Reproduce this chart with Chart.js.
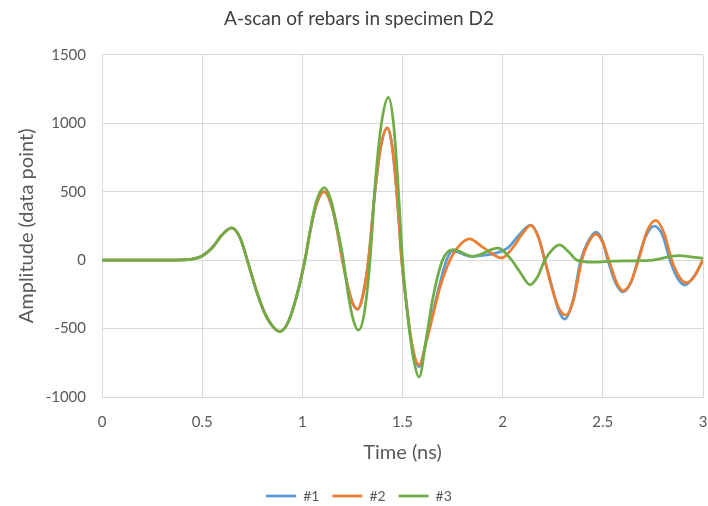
<!DOCTYPE html>
<html>
<head>
<meta charset="utf-8">
<script src="https://cdn.jsdelivr.net/npm/chart.js@4"></script>
<style>
  html, body { margin: 0; padding: 0; background: #fff; }
  #wrap { width: 708px; height: 506px; }
</style>
</head>
<body>
<div id="wrap"><canvas id="chart" width="708" height="506"></canvas></div>
<script>
// A-scan data (time in ns, amplitude in data points)
const seriesNames = ["#1", "#2", "#3"];
const seriesColors = ["#5B9BD5", "#ED7D31", "#70AD47"];

const time1 = [0, 0.3, 0.4, 0.45, 0.5, 0.55, 0.6, 0.647, 0.69, 0.725, 0.77, 0.81, 0.85, 0.889, 0.93, 0.97, 1.013, 1.04, 1.07, 1.108, 1.14, 1.17, 1.2, 1.225, 1.25, 1.275, 1.3, 1.33, 1.36, 1.39, 1.424, 1.45, 1.475, 1.496, 1.52, 1.55, 1.583, 1.62, 1.654, 1.687, 1.72, 1.75, 1.84, 1.9, 1.97, 2.03, 2.08, 2.14, 2.18, 2.21, 2.25, 2.28, 2.31, 2.35, 2.39, 2.43, 2.466, 2.5, 2.525, 2.565, 2.6, 2.64, 2.675, 2.715, 2.757, 2.8, 2.835, 2.87, 2.91, 2.955, 3.0];
const amp1 = [0, 0, 2, 8, 30, 90, 185, 235, 160, 0, -220, -380, -480, -522, -450, -272, 0, 216, 405, 500, 426, 250, 0, -180, -312, -360, -272, 0, 465, 815, 962, 815, 425, 0, -330, -645, -778, -580, -370, -170, 0, 68, 28, 35, 53, 95, 180, 256, 165, 0, -215, -370, -431, -300, 0, 145, 205, 135, 0, -170, -232, -165, 0, 175, 248, 175, 0, -125, -182, -120, 0];

const time2 = [0, 0.3, 0.4, 0.45, 0.5, 0.55, 0.6, 0.647, 0.69, 0.725, 0.77, 0.81, 0.85, 0.889, 0.93, 0.97, 1.013, 1.04, 1.07, 1.108, 1.14, 1.17, 1.2, 1.225, 1.25, 1.275, 1.3, 1.33, 1.36, 1.39, 1.424, 1.45, 1.475, 1.496, 1.52, 1.55, 1.583, 1.62, 1.654, 1.687, 1.737, 1.78, 1.834, 1.9, 1.995, 2.05, 2.1, 2.14, 2.18, 2.21, 2.25, 2.28, 2.316, 2.355, 2.395, 2.43, 2.466, 2.5, 2.53, 2.57, 2.603, 2.64, 2.678, 2.72, 2.764, 2.805, 2.844, 2.88, 2.916, 2.96, 3.0];
const amp2 = [0, 0, 2, 8, 30, 90, 185, 235, 160, 0, -220, -380, -480, -520, -450, -272, 0, 216, 405, 500, 426, 250, 0, -180, -310, -358, -272, 0, 465, 815, 966, 815, 425, 0, -325, -635, -766, -590, -392, -199, 0, 100, 155, 95, 16, 90, 195, 253, 160, 0, -225, -350, -402, -284, 0, 133, 190, 127, 0, -168, -224, -161, 0, 209, 290, 200, 0, -117, -165, -112, 5];

const time3 = [0, 0.3, 0.4, 0.45, 0.5, 0.55, 0.6, 0.647, 0.69, 0.725, 0.77, 0.81, 0.85, 0.889, 0.93, 0.97, 1.013, 1.04, 1.07, 1.11, 1.14, 1.17, 1.205, 1.23, 1.255, 1.28, 1.31, 1.338, 1.365, 1.395, 1.43, 1.455, 1.48, 1.5, 1.525, 1.555, 1.583, 1.62, 1.65, 1.7, 1.753, 1.85, 1.977, 2.045, 2.087, 2.137, 2.175, 2.21, 2.25, 2.283, 2.33, 2.37, 2.45, 2.55, 2.65, 2.75, 2.876, 2.95, 3.0];
const amp3 = [0, 0, 2, 8, 30, 90, 185, 235, 160, 0, -220, -380, -480, -522, -450, -272, 0, 225, 430, 529, 450, 265, 0, -260, -440, -512, -380, 0, 580, 1000, 1189, 1000, 500, 0, -390, -720, -854, -560, -290, 0, 77, 28, 87, 0, -89, -180, -120, 0, 80, 111, 60, 0, -15, -8, -5, 0, 33, 22, 15];

const timeTicks = [0, 0.5, 1, 1.5, 2, 2.5, 3];
const ampTicks = [-1000, -500, 0, 500, 1000, 1500];

const seriesTimes = [time1, time2, time3];
const seriesAmps = [amp1, amp2, amp3];

const fontFamily = "Lato, 'Open Sans', sans-serif";
const textColor = "#595959";
const gridColor = "#d9d9d9";

// later series drawn on top, like the original
const datasets = seriesNames.map((name, i) => ({
  label: name,
  data: seriesTimes[i].map((t, j) => ({ x: t, y: seriesAmps[i][j] })),
  borderColor: seriesColors[i],
  backgroundColor: seriesColors[i],
  borderWidth: 2.75,
  pointRadius: 0,
  pointHoverRadius: 0,
  pointStyle: "line",
  cubicInterpolationMode: "monotone",
  order: seriesNames.length - i,
  fill: false
}));

const ctx = document.getElementById("chart").getContext("2d");
new Chart(ctx, {
  type: "line",
  data: { datasets },
  options: {
    responsive: false,
    animation: false,
    events: [],
    layout: { padding: { left: 15, right: 5, top: 0, bottom: -7 } },
    plugins: {
      title: {
        display: true,
        text: "A-scan of rebars in specimen D2",
        color: "#404040",
        font: { family: fontFamily, size: 19, weight: "normal" },
        padding: { top: 7, bottom: 25 }
      },
      legend: {
        position: "bottom",
        labels: {
          usePointStyle: true,
          pointStyleWidth: 30,
          boxHeight: 10,
          color: textColor,
          font: { family: fontFamily, size: 14 },
          padding: 13,
          sort: (a, b) => a.datasetIndex - b.datasetIndex
        }
      },
      tooltip: { enabled: false }
    },
    scales: {
      x: {
        type: "linear",
        min: 0,
        max: 3,
        afterBuildTicks: scale => { scale.ticks = timeTicks.map(v => ({ value: v })); },
        afterFit: scale => {
          scale.height = 79;
          scale.paddingRight = 0;
          scale.paddingLeft = 0;
        },
        ticks: {
          color: textColor,
          font: { family: fontFamily, size: 15 },
          padding: 16,
          maxRotation: 0,
          callback: v => String(v)
        },
        grid: { color: gridColor, lineWidth: 1, drawTicks: false },
        border: { color: gridColor },
        title: {
          display: true,
          text: "Time (ns)",
          color: textColor,
          font: { family: fontFamily, size: 20 },
          padding: { top: 6, bottom: 11 }
        }
      },
      y: {
        min: -1000,
        max: 1500,
        afterBuildTicks: scale => { scale.ticks = ampTicks.map(v => ({ value: v })); },
        afterFit: scale => { scale.width = 87; },
        ticks: {
          color: textColor,
          font: { family: fontFamily, size: 15 },
          padding: 16,
          callback: v => String(v)
        },
        grid: { color: gridColor, lineWidth: 1, drawTicks: false },
        border: { color: gridColor },
        title: {
          display: true,
          text: "Amplitude (data point)",
          color: textColor,
          font: { family: fontFamily, size: 20 },
          padding: { top: 0, bottom: 0 }
        }
      }
    }
  }
});
</script>
</body>
</html>
